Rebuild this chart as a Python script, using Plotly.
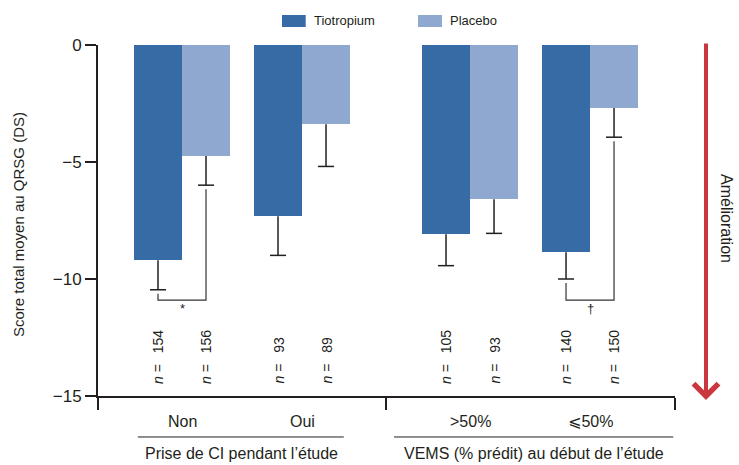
import plotly.graph_objects as go

# ---- data ----
categories = ["\u003e50%", "\u2a7d50%"]
categories = ["Non", "Oui"] + categories
groups = ["Prise de CI pendant l\u2019\u00e9tude", "VEMS (% pr\u00e9dit) au d\u00e9but de l\u2019\u00e9tude"]
group_of = [0, 0, 1, 1]
tio_mean = [-9.20, -7.32, -8.09, -8.86]
tio_sd = [1.26, 1.67, 1.34, 1.14]
pla_mean = [-4.74, -3.39, -6.59, -2.69]
pla_sd = [1.25, 1.80, 1.46, 1.25]
tio_n = [154, 93, 105, 140]
pla_n = [156, 89, 93, 150]
significance = ["*", "", "", "\u2020"]
series_names = ["Tiotropium", "Placebo"]
y_ticks = [0, -5, -10, -15]

# ---- style ----
FONT = "Liberation Sans, Arial, Helvetica, DejaVu Sans, sans-serif"
INK = "#231f20"
C_TIO = "#376ba6"
C_PLA = "#8fa8cf"
RED = "#c9383e"
BW = 0.4          # bar width (x units)
GROUP_GAP = 0.4   # extra gap between the two groups
CAP = 0.067       # half-width of error caps
BRACKET_Y = -10.9
BRACKET_GAP = 0.17

# category centres derived from index + group
pos = [i + 1 + GROUP_GAP * g for i, g in enumerate(group_of)]
tio_x = [p - BW / 2 for p in pos]
pla_x = [p + BW / 2 for p in pos]

fig = go.Figure()
fig.add_trace(go.Bar(x=pos, y=tio_mean, width=BW, offset=-BW, name=series_names[0],
                     marker=dict(color=C_TIO, line=dict(width=0))))
fig.add_trace(go.Bar(x=pos, y=pla_mean, width=BW, offset=0, name=series_names[1],
                     marker=dict(color=C_PLA, line=dict(width=0))))

# error bars (downward only)
ex, ey = [], []
for xs, ms, ss in ((tio_x, tio_mean, tio_sd), (pla_x, pla_mean, pla_sd)):
    for xc, m, s in zip(xs, ms, ss):
        ex += [xc, xc, None, xc - CAP, xc + CAP, None]
        ey += [m, m - s, None, m - s, m - s, None]
fig.add_trace(go.Scatter(x=ex, y=ey, mode="lines", line=dict(color=INK, width=1.5),
                         hoverinfo="skip", showlegend=False))

# significance brackets
bx, by = [], []
for i, sym in enumerate(significance):
    if not sym:
        continue
    y_l = tio_mean[i] - tio_sd[i] - BRACKET_GAP
    y_r = pla_mean[i] - pla_sd[i] - BRACKET_GAP
    bx += [tio_x[i], tio_x[i], pla_x[i], pla_x[i], None]
    by += [y_l, BRACKET_Y, BRACKET_Y, y_r, None]
    fig.add_annotation(x=pos[i], y=BRACKET_Y, text=sym, showarrow=False, xanchor="center",
                       yanchor="top", yshift=1, font=dict(family=FONT, size=13, color=INK))
fig.add_trace(go.Scatter(x=bx, y=by, mode="lines", line=dict(color="#333333", width=1.2),
                         hoverinfo="skip", showlegend=False))

# n labels
for xs, ns in ((tio_x, tio_n), (pla_x, pla_n)):
    for xc, n in zip(xs, ns):
        fig.add_annotation(x=xc, y=-15, yshift=10, text=f"<i>n</i> = \u2002{n}", textangle=-90,
                           showarrow=False, xanchor="center", yanchor="bottom",
                           font=dict(family=FONT, size=14, color=INK))

# category labels
for p, c in zip(pos, categories):
    fig.add_annotation(x=p, y=-0.074, yref="paper", text=c, showarrow=False,
                       xanchor="center", yanchor="middle",
                       font=dict(family=FONT, size=16, color=INK))

# group labels with underlines
group_label_x = [0.248, 0.755]
group_line = [(0.069, 0.426), (0.513, 0.997)]
for g, (gx, (l0, l1)) in enumerate(zip(group_label_x, group_line)):
    fig.add_annotation(x=gx, y=-0.1624, xref="paper", yref="paper", text=groups[g],
                       showarrow=False, xanchor="center", yanchor="middle",
                       font=dict(family=FONT, size=16, color=INK))
    fig.add_shape(type="line", xref="paper", yref="paper", x0=l0, x1=l1, y0=-0.1168, y1=-0.1168,
                  line=dict(color=INK, width=1))

# manual legend
leg = [(0.3189, 0.36, 0.3704, C_TIO), (0.5546, 0.5962, 0.6061, C_PLA)]
for (s0, s1, tx, col), name in zip(leg, series_names):
    fig.add_shape(type="rect", xref="paper", yref="paper", x0=s0, x1=s1, y0=1.0513, y1=1.0855,
                  fillcolor=col, line=dict(width=0))
    fig.add_annotation(x=tx, y=1.0684, xref="paper", yref="paper", text=name, showarrow=False,
                       xanchor="left", yanchor="middle", font=dict(family=FONT, size=13, color=INK))

# y title
fig.add_annotation(x=-0.1386, y=0.487, xref="paper", yref="paper", text="Score total moyen au QRSG (DS)",
                   textangle=-90, showarrow=False, xanchor="center", yanchor="middle",
                   font=dict(family=FONT, size=15, color=INK))

# improvement arrow
fig.add_annotation(x=1.0537, y=-0.0114, xref="paper", yref="paper", ax=0, ay=-358,
                   showarrow=True, arrowhead=4, arrowsize=1.2, arrowwidth=4, arrowcolor=RED, text="")
fig.add_annotation(x=1.0902, y=0.507, xref="paper", yref="paper", text="Am\u00e9lioration",
                   textangle=90, showarrow=False, xanchor="center", yanchor="middle",
                   font=dict(family=FONT, size=16, color=INK))

fig.update_layout(
    width=739, height=465,
    margin=dict(l=98, r=64, t=45, b=69),
    plot_bgcolor="white", paper_bgcolor="white",
    showlegend=False, bargap=0,
    font=dict(family=FONT, size=14, color=INK),
    xaxis=dict(range=[0.3, 5.108], tickvals=[0.3, 2.7, 5.108], showticklabels=False,
               ticks="outside", ticklen=12, tickwidth=2, tickcolor=INK,
               showline=True, linewidth=2, linecolor=INK, showgrid=False, zeroline=False),
    yaxis=dict(range=[-15, 0], tickvals=y_ticks, ticks="outside", ticklen=11, tickwidth=2,
               tickcolor=INK, showline=True, linewidth=2, linecolor=INK, showgrid=False,
               zeroline=False, tickfont=dict(family=FONT, size=17, color=INK)),
)

fig.write_html("out.html", config={"displayModeBar": False},
               post_script="document.body.style.margin='0px';")
